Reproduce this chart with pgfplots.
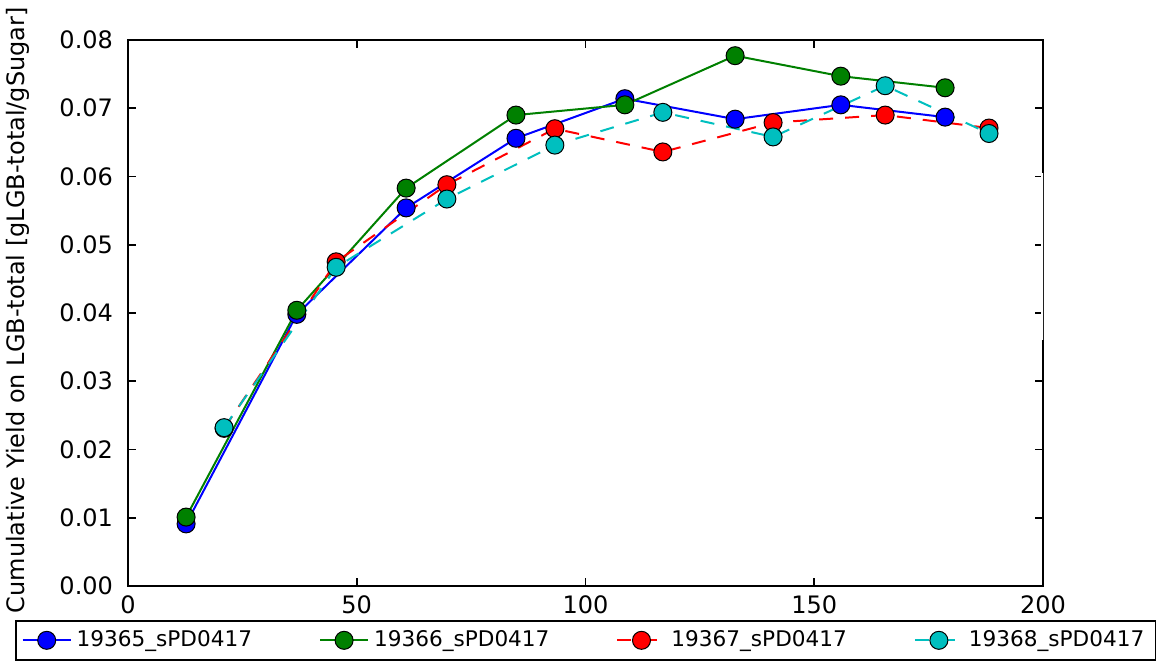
\documentclass[border=0pt]{standalone}
\usepackage{fontspec}
\setmainfont{DejaVu Sans}
\usepackage{pgfplots}
\pgfplotsset{compat=1.18}

\definecolor{mplblue}{rgb}{0,0,1}
\definecolor{mplgreen}{rgb}{0,0.5,0}
\definecolor{mplred}{rgb}{1,0,0}
\definecolor{mplcyan}{rgb}{0,0.75,0.75}

\begin{document}
\begin{tikzpicture}
\begin{axis}[
    scale only axis,
    width=457.5pt, height=273pt,
    xmin=0, xmax=200, ymin=0, ymax=0.08,
    xtick={0,50,...,200},
    ytick={0,0.01,...,0.08},
    font=\fontsize{12}{14}\selectfont,
    /pgf/number format/assume math mode=true,
    yticklabel style={/pgf/number format/fixed, /pgf/number format/fixed zerofill,
      /pgf/number format/precision=2, xshift=-4pt},
    scaled y ticks=false,
    xticklabel style={yshift=-1.5pt},
    axis line style={line width=1pt},
    tick style={black, line width=0.8pt},
    major tick length=4pt,
    tick align=inside,
    every axis y label/.style={at={(axis description cs:-0.12,0.505)}, rotate=90, anchor=center},
    ylabel={Cumulative Yield on LGB-total [gLGB-total/gSugar]},
    legend columns=4,
    legend style={at={(0.5,0)}, anchor=north, yshift=-17pt, draw=black, line width=0.8pt,
      font=\fontsize{10.8}{13}\selectfont, inner xsep=3pt, inner ysep=3pt,
      nodes={inner xsep=2.5pt},
      /tikz/every even column/.append style={column sep=31pt}},
    legend image code/.code={\draw[#1, mark=none] plot coordinates {(0pt,0pt) (24pt,0pt)};
      \draw[#1, only marks] plot coordinates {(12pt,0pt)};},
    every axis plot/.append style={line width=1pt, mark=*, mark size=4.5pt},
]
\addplot[mplblue, mark options={solid, draw=black, line width=0.5pt, fill=mplblue}] coordinates {
  (12.7,0.0091) (36.9,0.0398) (60.8,0.0554) (84.8,0.0656)
  (108.6,0.0714) (132.7,0.0684) (155.8,0.0705) (178.6,0.0687)
};
\addlegendentry{19365\_sPD0417}
\addplot[mplgreen, mark options={solid, draw=black, line width=0.5pt, fill=mplgreen}] coordinates {
  (12.7,0.0101) (36.9,0.0404) (60.8,0.0583) (84.8,0.0690)
  (108.6,0.0705) (132.7,0.0777) (155.8,0.0747) (178.6,0.0730)
};
\addlegendentry{19366\_sPD0417}
\addplot[mplred, dash pattern=on 7pt off 6pt,
  mark options={solid, draw=black, line width=0.5pt, fill=mplred}] coordinates {
  (21.0,0.0231) (45.5,0.0475) (69.7,0.0588) (93.3,0.0670)
  (116.9,0.0636) (141.0,0.0679) (165.5,0.0690) (188.2,0.0671)
};
\addlegendentry{19367\_sPD0417}
\addplot[mplcyan, dash pattern=on 7pt off 6pt,
  mark options={solid, draw=black, line width=0.5pt, fill=mplcyan}] coordinates {
  (21.0,0.0232) (45.5,0.0467) (69.7,0.0567) (93.3,0.0646)
  (116.9,0.0694) (141.0,0.0658) (165.5,0.0733) (188.2,0.0663)
};
\addlegendentry{19368\_sPD0417}
% erased piece of the right spine in the source image
\draw[white, line width=1.6pt] (axis cs:200,0.0605) -- (axis cs:200,0.036);
\end{axis}
\pgfresetboundingbox
\path[use as bounding box] (-64pt,-39pt) rectangle (515.5pt,293pt);
\end{tikzpicture}
\end{document}
